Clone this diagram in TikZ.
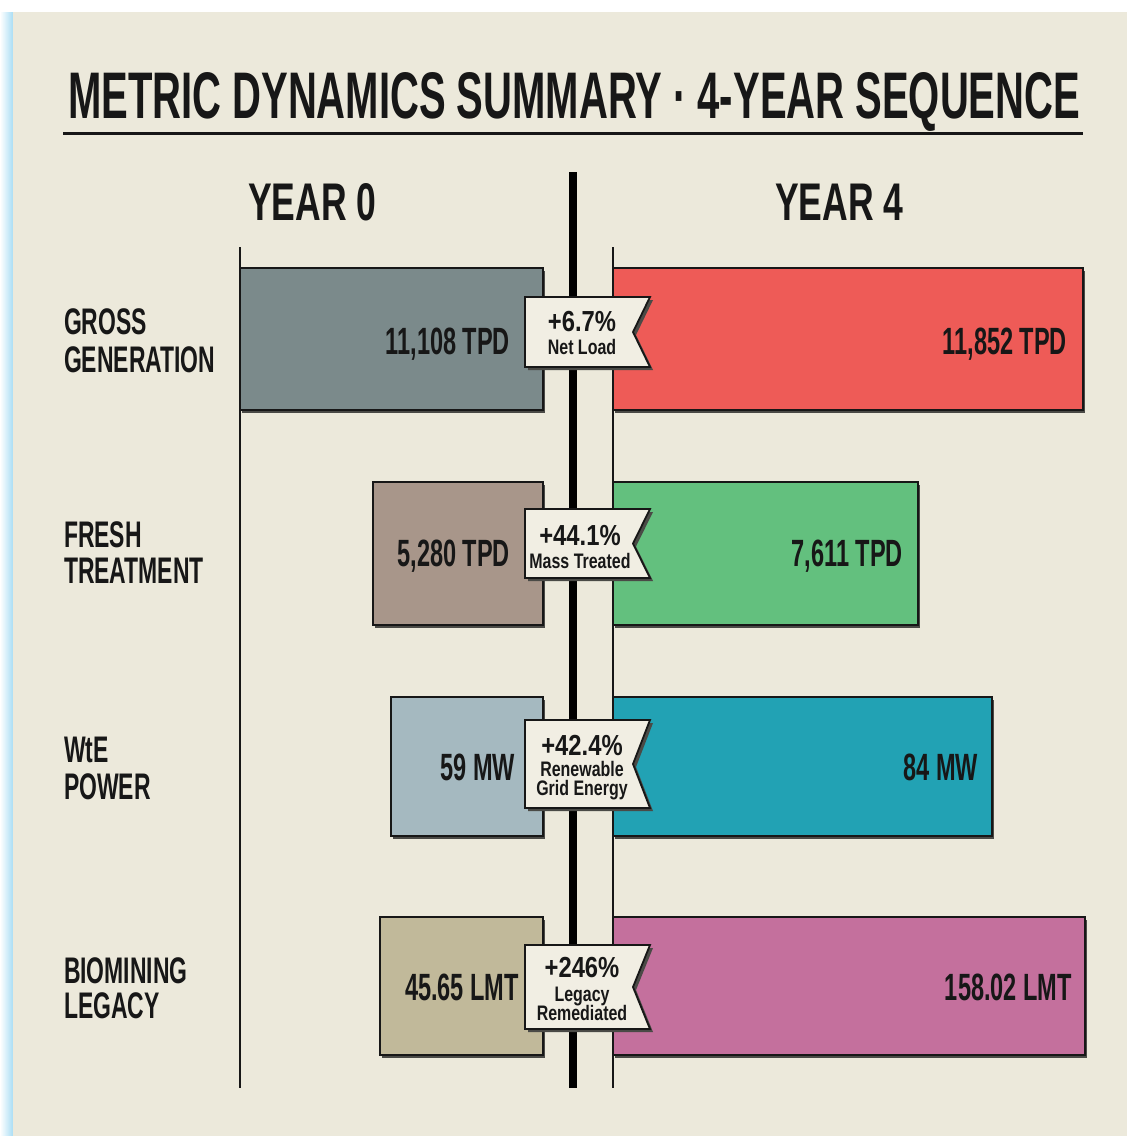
\documentclass[tikz,border=0pt]{standalone}
\usepackage{fontspec}
\setmainfont{Liberation Sans}
\newfontfamily\cfa[FakeStretch=0.62]{Liberation Sans}
\newfontfamily\cfc[FakeStretch=0.67]{Liberation Sans}
\newfontfamily\cfb[FakeStretch=0.82]{Liberation Sans}
\newfontfamily\cfd[FakeStretch=0.76]{Liberation Sans}
\usepackage{graphicx}
\definecolor{bg}{HTML}{ECE9DB}
\definecolor{edgeblue}{HTML}{A9DDF4}
\definecolor{ink}{HTML}{171717}
\definecolor{shadowc}{HTML}{4A4A46}
\definecolor{badgec}{HTML}{F1EEE3}
\definecolor{cGa}{HTML}{7B8A8B}
\definecolor{cGb}{HTML}{EE5B57}
\definecolor{cFa}{HTML}{A8968A}
\definecolor{cFb}{HTML}{63C07E}
\definecolor{cWa}{HTML}{A5B9C0}
\definecolor{cWb}{HTML}{22A2B4}
\definecolor{cBa}{HTML}{C1B99A}
\definecolor{cBb}{HTML}{C4709D}
\newcommand\lblfont{\cfa\bfseries\fontsize{37}{39}\selectfont}
\newcommand\yrfont{\cfc\bfseries\fontsize{53}{53}\selectfont}
\newcommand\valfont{\cfa\bfseries\fontsize{38}{38}\selectfont}
\newcommand\numfont{\cfb\bfseries\fontsize{29}{29}\selectfont}
\newcommand\subfont{\cfd\bfseries\fontsize{21}{21}\selectfont}
\tikzset{
  barbox/.style={draw=ink, line width=1.5pt, anchor=north west, inner sep=0pt, outer sep=0pt},
  txt/.style={inner sep=0pt, outer sep=0pt, text=ink},
}
\newcommand\mkbar[6]{%
  \fill[shadowc] (#2+2,#3+3) rectangle (#4+2,#5+3);
  \node[barbox, fill=#6, minimum width={#4-#2}, minimum height={#5-#3}] (#1) at (#2,#3) {};}
\newcommand\mkbadge[3]{%
  \fill[shadowc] (528,#2+3) -- (653,#2+3) -- (636,{(#2+#3)/2+3}) -- (653,#3+3) -- (528,#3+3) -- cycle;
  \draw[ink, line width=1.8pt, fill=badgec, line join=miter] (525,#2) -- (650,#2) -- (633,{(#2+#3)/2}) -- (650,#3) -- (525,#3) -- cycle;
  \coordinate (#1) at (581,{(#2+#3)/2});}
\begin{document}
\begin{tikzpicture}[x=1pt,y=-1pt]
\useasboundingbox (0,0) rectangle (1127,1136);
\fill[white] (0,0) rectangle (1127,1136);
\shade[left color=white, right color=edgeblue] (0,12) rectangle (13,1136);
\fill[bg] (13,12) rectangle (1127,1136);

% title
\node[txt, anchor=base west] (title) at (68,118) {\resizebox{1012pt}{46pt}{\cfa\bfseries METRIC DYNAMICS SUMMARY · 4-YEAR SEQUENCE}};
\coordinate (ulA) at (63,133);
\coordinate (ulB) at (1083,133);
\draw[ink, line width=3pt] (ulA) -- (ulB);

% year headers
\node[txt, anchor=base west, font=\yrfont] (yr0) at (248,220) {YEAR 0};
\node[txt, anchor=base west, font=\yrfont] (yr4) at (775,220) {YEAR 4};

% axes
\coordinate (axLt) at (240,247);
\coordinate (axLb) at (240,1088);
\coordinate (axRt) at (613,247);
\coordinate (axRb) at (613,1088);
\coordinate (axCt) at (573,172);
\coordinate (axCb) at (573,1088);
\draw[ink, line width=1.6pt] (axLt) -- (axLb);
\draw[ink, line width=1.6pt] (axRt) -- (axRb);
\draw[black, line width=8pt] (axCt) -- (axCb);

% bars
\mkbar{barGa}{240}{268}{543}{410}{cGa}
\mkbar{barGb}{613}{268}{1083}{410}{cGb}
\mkbar{barFa}{373}{482}{543}{625}{cFa}
\mkbar{barFb}{613}{482}{918}{625}{cFb}
\mkbar{barWa}{391}{697}{543}{836}{cWa}
\mkbar{barWb}{613}{697}{992}{836}{cWb}
\mkbar{barBa}{380}{917}{543}{1055}{cBa}
\mkbar{barBb}{613}{917}{1085}{1055}{cBb}

% badges
\mkbadge{bdG}{297}{367}
\mkbadge{bdF}{509}{578}
\mkbadge{bdW}{720}{808}
\mkbadge{bdB}{945}{1029}

% row labels
\node[txt, anchor=base west, font=\lblfont] (lGa) at (64,334) {GROSS};
\node[txt, anchor=base west, font=\lblfont] (lGb) at (64,372) {GENERATION};
\node[txt, anchor=base west, font=\lblfont] (lFa) at (64,547) {FRESH};
\node[txt, anchor=base west, font=\lblfont] (lFb) at (64,583) {TREATMENT};
\node[txt, anchor=base west, font=\lblfont] (lWa) at (64,762) {WtE};
\node[txt, anchor=base west, font=\lblfont] (lWb) at (64,799) {POWER};
\node[txt, anchor=base west, font=\lblfont] (lBa) at (64,983) {BIOMINING};
\node[txt, anchor=base west, font=\lblfont] (lBb) at (64,1018) {LEGACY};

% values
\node[txt, anchor=base east, font=\valfont] (vGa) at (510,354) {11,108 TPD};
\node[txt, anchor=base east, font=\valfont] (vGb) at (1067,354) {11,852 TPD};
\node[txt, anchor=base east, font=\valfont] (vFa) at (510,566) {5,280 TPD};
\node[txt, anchor=base east, font=\valfont] (vFb) at (903,566) {7,611 TPD};
\node[txt, anchor=base east, font=\valfont] (vWa) at (515,780) {59 MW};
\node[txt, anchor=base east, font=\valfont] (vWb) at (978,780) {84 MW};
\node[txt, anchor=base east, font=\valfont] (vBa) at (519,1000) {45.65 LMT};
\node[txt, anchor=base east, font=\valfont] (vBb) at (1072,1000) {158.02 LMT};

% badge texts
\node[txt, anchor=base, font=\numfont] (nG) at (582,331) {+6.7\%};
\node[txt, anchor=base, font=\subfont] (sG) at (582,354) {Net Load};
\node[txt, anchor=base, font=\numfont] (nF) at (580,545) {+44.1\%};
\node[txt, anchor=base, font=\subfont] (sF) at (580,568) {Mass Treated};
\node[txt, anchor=base, font=\numfont] (nW) at (582,755) {+42.4\%};
\node[txt, anchor=base, font=\subfont] (sWa) at (582,776) {Renewable};
\node[txt, anchor=base, font=\subfont] (sWb) at (582,795) {Grid Energy};
\node[txt, anchor=base, font=\numfont] (nB) at (582,977) {+246\%};
\node[txt, anchor=base, font=\subfont] (sBa) at (582,1001) {Legacy};
\node[txt, anchor=base, font=\subfont] (sBb) at (582,1020) {Remediated};
\end{tikzpicture}
\end{document}
